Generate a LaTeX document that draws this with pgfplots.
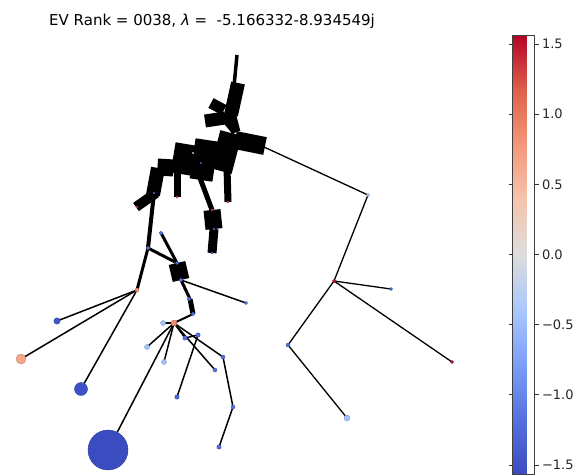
\documentclass[border=0pt]{standalone}
\usepackage{fontspec}
\setmainfont{DejaVu Sans}
\usepackage{pgfplots}
\usepackage{pgfplotstable}
\pgfplotsset{compat=1.18}
\pgfplotsset{colormap={coolwarm}{rgb255=(59,76,192) rgb255=(85,113,223) rgb255=(124,159,249) rgb255=(170,199,253) rgb255=(221,221,221) rgb255=(245,196,173) rgb255=(244,152,122) rgb255=(222,96,76) rgb255=(180,4,38)}}

\pgfplotstableread{
x y c s
154 193 -1.3 1.2
137 207 1.3 1.2
177 197 1.3 1.2
228 202 1.3 1.2
212 210 1.3 1.2
214 229 -1.3 1.2
212 253 -1.3 1.2
193 153 0.3 0.8
201 163 -1.2 0.8
108 450 -1.56 20
81 389 -1.5 6.5
21 359 0.65 5
57 321 -1.45 3.2
137 290 0.85 2
174 323 0.85 3
163 323 -0.45 2.5
147 347 -0.45 2.5
164 362 -0.45 2.5
185 338 -1.2 2.2
198 335 -1.2 2.2
215 370 -1.2 2
223 357 -1.2 2
177 397 -1.3 2.2
233 407 -1.2 2
219 447 -1.2 2.2
246 303 -1.2 1.6
189 299 -1.2 1.8
193 314 -1.2 1.8
177 263 -1.2 1.6
181 280 -1.2 1.8
161 233 -1.2 1.8
148 248 -1.2 1.8
368 195 -0.45 1.6
334 281 1.5 1.6
391 289 -1.2 1.5
452 362 1.5 1.5
288 345 -1.2 2
347 418 -0.45 3
}\nodestable

\begin{document}
\begin{tikzpicture}
\path[use as bounding box] (0pt,0pt) rectangle (581pt,474pt);
\begin{axis}[
  at={(0pt,0pt)}, anchor=south west,
  scale only axis, width=490pt, height=444pt,
  xmin=0, xmax=490, ymin=30, ymax=474, y dir=reverse,
  hide axis, clip=false,
  colormap name=coolwarm,
  point meta min=-1.564, point meta max=1.564,
  colorbar,
  colorbar style={
    at={(parent axis.north east)}, anchor=north west,
    xshift=14pt, yshift=-5pt,
    scale only axis, width=22pt, height=439pt,
    axis line style={draw=black!75, line width=0.7pt},
    ytick={-1.5,-1,-0.5,0,0.5,1,1.5},
    yticklabels={−1.5,−1.0,−0.5,0.0,0.5,1.0,1.5},
    yticklabel style={font=\fontsize{13}{15}\selectfont, text=black!85},
    tick align=outside, major tick length=4pt,
    ytick style={draw=black!80, line width=0.7pt},
  },
]
% thick cluster
\addplot[black, line width=3.5pt] coordinates {(237,55) (234,86)};
\addplot[black, line width=14pt] coordinates {(238,83) (231,115)};
\addplot[black, line width=9pt] coordinates {(231,113) (236,132)};
\addplot[black, line width=11pt] coordinates {(211,103) (224,110)};
\addplot[black, line width=13pt] coordinates {(205,121) (225,118)};
\addplot[black, line width=8pt] coordinates {(222,115) (236,132)};
\addplot[black, line width=18pt] coordinates {(235,140) (265,146)};
\addplot[black, line width=1.3pt] coordinates {(264,147) (368,195)};
\addplot[black, line width=22pt] coordinates {(231,133) (221,171)};
\addplot[black, line width=23pt] coordinates {(207,140) (201,180)};
\addplot[black, line width=21pt] coordinates {(186,144) (181,174)};
\addplot[black, line width=16pt] coordinates {(166,159) (165,176)};
\addplot[black, line width=14pt] coordinates {(158,168) (153,195)};
\addplot[black, line width=10pt] coordinates {(156,193) (136,207)};
\addplot[black, line width=7pt] coordinates {(177,168) (177,197)};
\addplot[black, line width=7pt] coordinates {(227,168) (228,202)};
\addplot[black, line width=5pt] coordinates {(200,178) (212,210)};
\addplot[black, line width=17pt] coordinates {(212,210) (214,229)};
\addplot[black, line width=9pt] coordinates {(214,229) (212,253)};
\addplot[black, line width=4pt] coordinates {(154,193) (148,248)};
\addplot[black, line width=3pt] coordinates {(148,248) (137,290)};
\addplot[black, line width=3pt] coordinates {(148,248) (177,263)};
\addplot[black, line width=3pt] coordinates {(161,233) (177,263)};
\addplot[black, line width=17pt] coordinates {(177,263) (181,280)};
\addplot[black, line width=1.5pt] coordinates {(181,280) (246,303)};
\addplot[black, line width=3pt] coordinates {(181,280) (190,299)};
\addplot[black, line width=5pt] coordinates {(190,299) (193,314)};
\addplot[black, line width=2pt] coordinates {(193,314) (174,323)};
% thin edges
\addplot[black, line width=2pt] coordinates {(174,323) (163,323)};
\addplot[black, line width=1.5pt] coordinates {(174,323) (147,347)};
\addplot[black, line width=1.5pt] coordinates {(174,323) (164,362)};
\addplot[black, line width=1.5pt] coordinates {(174,323) (108,450)};
\addplot[black, line width=1.5pt] coordinates {(174,323) (185,338)};
\addplot[black, line width=1.5pt] coordinates {(174,323) (223,357)};
\addplot[black, line width=1.5pt] coordinates {(174,323) (215,370)};
\addplot[black, line width=1.5pt] coordinates {(185,338) (198,335)};
\addplot[black, line width=1.5pt] coordinates {(198,335) (177,397)};
\addplot[black, line width=1.5pt] coordinates {(223,357) (233,407)};
\addplot[black, line width=1.5pt] coordinates {(233,407) (219,447)};
\addplot[black, line width=1.5pt] coordinates {(137,290) (57,321)};
\addplot[black, line width=1.5pt] coordinates {(137,290) (21,359)};
\addplot[black, line width=1.5pt] coordinates {(137,290) (81,389)};
\addplot[black, line width=1.3pt] coordinates {(368,195) (334,281)};
\addplot[black, line width=1.3pt] coordinates {(334,281) (391,289)};
\addplot[black, line width=1.3pt] coordinates {(334,281) (452,362)};
\addplot[black, line width=1.3pt] coordinates {(334,281) (288,345)};
\addplot[black, line width=1.3pt] coordinates {(288,345) (347,418)};
% nodes
\addplot[scatter, only marks, mark=*, scatter src=explicit,
  visualization depends on={\thisrow{s} \as \msize},
  scatter/@pre marker code/.append style={/tikz/mark size=\msize, /tikz/line width=0.3pt}]
  table[x=x, y=y, meta=c] {\nodestable};
\end{axis}
\node[anchor=base west, font=\fontsize{15}{17}\selectfont, inner sep=0pt] at (49pt,448pt)
  {EV Rank = 0038, {\itshape λ} =\ \ -5.166332-8.934549j};
\end{tikzpicture}
\end{document}
